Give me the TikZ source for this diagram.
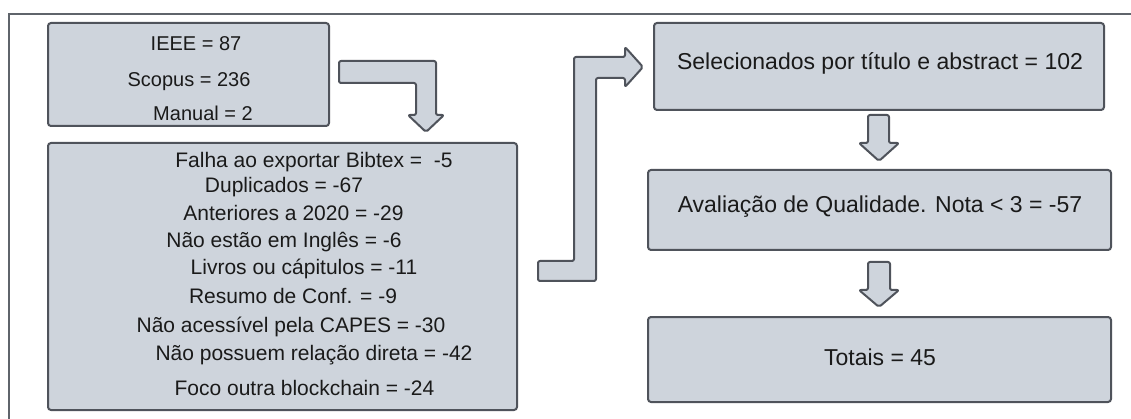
\documentclass[tikz,border=0pt]{standalone}
\usepackage{fontspec}
\setmainfont{Liberation Sans}
\definecolor{boxfill}{HTML}{CED4DC}
\definecolor{boxline}{HTML}{4F535B}
\definecolor{frameline}{HTML}{5F646B}
\definecolor{txt}{HTML}{1A1A1A}
\tikzset{
  box/.style={draw=boxline, fill=boxfill, line width=2pt, rounded corners=3pt, inner sep=0pt},
  blockarrow/.style={draw=boxline, fill=boxfill, line width=2pt, rounded corners=2pt, line join=round},
  lefta/.style={text=txt, inner sep=0pt, font=\fontsize{20}{24}\selectfont},
  leftb/.style={text=txt, inner sep=0pt, font=\fontsize{21}{25}\selectfont},
  righttext/.style={text=txt, inner sep=0pt, font=\fontsize{23}{27}\selectfont},
}
\begin{document}
\begin{tikzpicture}[x=1pt,y=-1pt]
\useasboundingbox (0,0) rectangle (1131,419);
% outer frame
\draw[frameline, line width=2pt] (9,419) -- (9,14) -- (1131,14);
% boxes
\node[box, minimum width=281pt, minimum height=103pt] (src) at (188.5,74.5) {};
\node[box, minimum width=469pt, minimum height=267pt] (excl) at (282.5,276.5) {};
\node[box, minimum width=450pt, minimum height=87pt] (sel) at (879,66.5) {};
\node[box, minimum width=463pt, minimum height=80pt] (qual) at (879.5,210) {};
\node[box, minimum width=463pt, minimum height=85pt] (tot) at (879.5,359.5) {};
% source texts
\node[lefta] (t1) at (196,44) {IEEE = 87};
\node[lefta] (t2) at (189,82) {Scopus = 236};
\node[lefta] (t3) at (203,113) {Manual = 2};
% exclusion texts
\node[leftb] (e1) at (314,162) {Falha ao exportar Bibtex = \ -5};
\node[leftb] (e2) at (284,187) {Duplicados = -67};
\node[leftb] (e3) at (293.5,213) {Anteriores a 2020 = -29};
\node[leftb] (e4) at (284,242) {Não estão em Inglês = -6};
\node[leftb] (e5) at (304,269) {Livros ou cápitulos = -11};
\node[leftb] (e6) at (293,296) {Resumo de Conf. = -9};
\node[leftb] (e7) at (291,327) {Não acessível pela CAPES = -30};
\node[leftb] (e8) at (314,355) {Não possuem relação direta = -42};
\node[leftb] (e9) at (304.5,388) {Foco outra blockchain = -24};
% right texts
\node[righttext] (r1) at (880,63) {Selecionados por título e abstract = 102};
\node[righttext] (r2) at (880,207) {Avaliação de Qualidade. Nota < 3 = -57};
\node[righttext] (r3) at (880,357) {Totais = 45};
% block arrows
\draw[blockarrow] (339,61) -- (436,61) -- (436,115) -- (444,115) -- (426,132) -- (408,115) -- (416,115) -- (416,83) -- (339,83) -- cycle;
\draw[blockarrow] (538,261) -- (574,261) -- (574,57) -- (625,57) -- (625,47) -- (643,67) -- (625,87) -- (625,78) -- (596,78) -- (596,281) -- (538,281) -- cycle;
\draw[blockarrow] (868,115) -- (889,115) -- (889,143) -- (899,143) -- (879,161) -- (859,143) -- (868,143) -- cycle;
\draw[blockarrow] (868,262) -- (890,262) -- (890,290) -- (899,290) -- (879,307) -- (859,290) -- (868,290) -- cycle;
\end{tikzpicture}
\end{document}
